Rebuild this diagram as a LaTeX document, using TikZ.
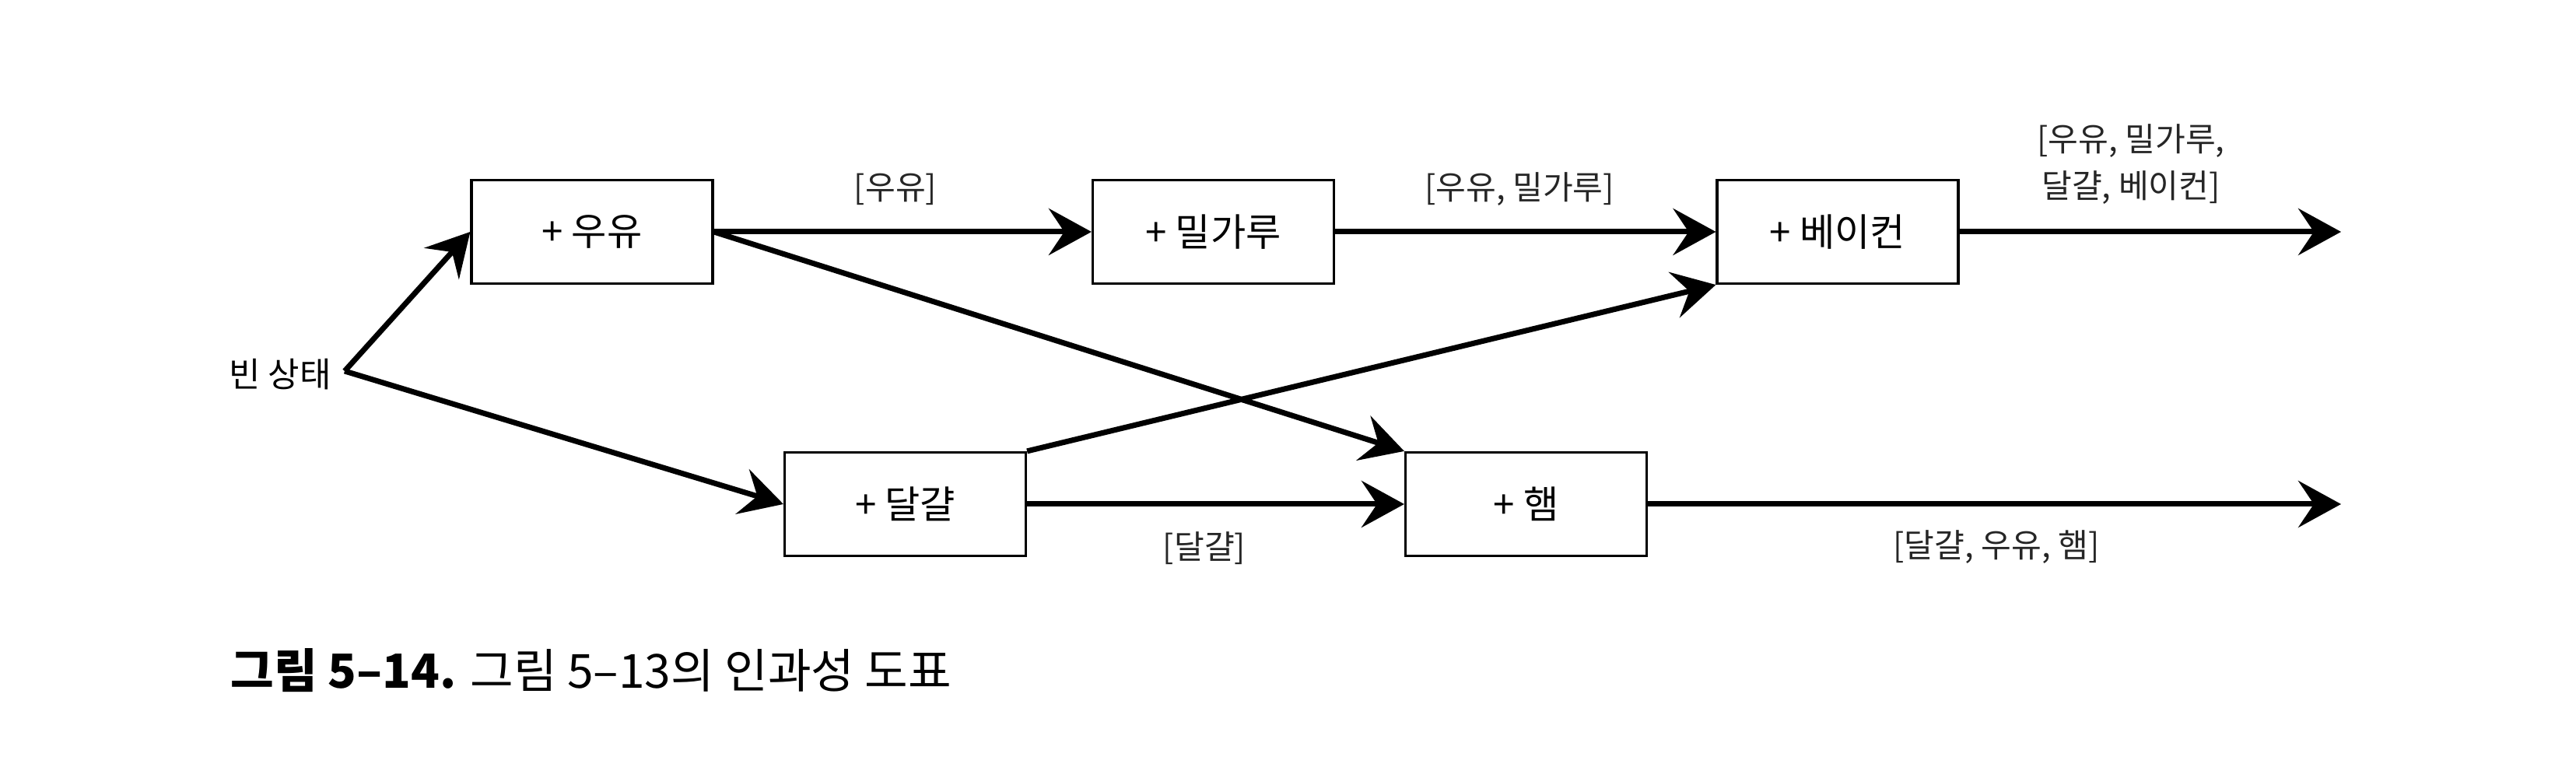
\documentclass[tikz,border=0pt]{standalone}
\usepackage{fontspec}
\setmainfont{Noto Sans CJK KR}
\usetikzlibrary{arrows.meta}
\begin{document}
\begin{tikzpicture}[
  box/.style={draw, line width=0.9pt, minimum width=3.1cm, minimum height=1.33cm, inner sep=0pt, font=\fontsize{14}{16}\selectfont},
  conn/.style={line width=2pt, -{Stealth[length=5.5mm, width=6mm, inset=2mm]}},
  lbl/.style={font=\fontsize{12}{17}\selectfont, align=center, text=black!85}
]
\useasboundingbox (0,0) rectangle (33.11,10);
\node[box] (milk)  at (7.61,7.02)  {+ 우유};
\node[box] (flour) at (15.595,7.02) {+ 밀가루};
\node[box] (bacon) at (23.62,7.02) {+ 베이컨};
\node[box] (egg)   at (11.635,3.52) {+ 달걀};
\node[box] (ham)   at (19.615,3.52) {+ 햄};
\node[font=\fontsize{12.5}{14}\selectfont, anchor=east] (empty) at (4.38,5.19) {빈 상태};
\coordinate (start) at (4.43,5.23);
\coordinate (outA) at (30.09,7.02);
\coordinate (outB) at (30.09,3.52);
\draw[conn] (start) -- (milk.west);
\draw[conn] (start) -- (egg.west);
\draw[conn] (milk.east) -- (flour.west);
\draw[conn] (milk.east) -- (ham.north west);
\draw[conn] (flour.east) -- (bacon.west);
\draw[conn] (egg.north east) -- (bacon.south west);
\draw[conn] (egg.east) -- (ham.west);
\draw[conn] (bacon.east) -- (outA);
\draw[conn] (ham.east) -- (outB);
\node[lbl] (l1) at (11.51,7.57) {[우유]};
\node[lbl] (l2) at (19.53,7.57) {[우유, 밀가루]};
\node[lbl] (l3) at (27.39,7.89) {[우유, 밀가루,\\달걀, 베이컨]};
\node[lbl] (l4) at (15.48,2.95) {[달걀]};
\node[lbl] (l5) at (25.66,2.97) {[달걀, 우유, 햄]};
\node[anchor=west, font=\fontsize{17.2}{19}\selectfont, inner sep=0pt] (cap) at (2.96,1.38) {\textbf{그림 5–14.} 그림 5–13의 인과성 도표};
\end{tikzpicture}
\end{document}
